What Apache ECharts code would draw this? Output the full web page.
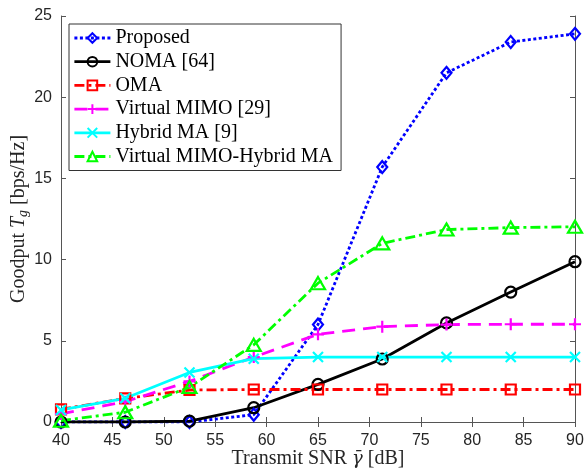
<!DOCTYPE html>
<html>
<head>
<meta charset="utf-8">
<script src="https://cdn.jsdelivr.net/npm/echarts@6/dist/echarts.min.js"></script>
<style>
  html, body { margin: 0; padding: 0; background: #fff; }
  #chart { width: 584px; height: 471px; }
</style>
</head>
<body>
<div id="chart"></div>
<script>
// transmit SNR (dB) sample points
const snr = [40, 46.25, 52.5, 58.75, 65, 71.25, 77.5, 83.75, 90];

// goodput values
const proposed = [0, 0, 0, 0.45, 6.0, 15.7, 21.5, 23.4, 23.9];
const noma     = [0, 0, 0.05, 0.88, 2.32, 3.88, 6.1, 8.0, 9.87];
const oma      = [0.78, 1.45, 1.97, 2.0, 2.0, 2.0, 2.0, 2.0, 2.0];
const vmimo    = [0.5, 1.25, 2.5, 4.0, 5.4, 5.87, 6.0, 6.02, 6.02];
const hybrid   = [0.74, 1.46, 3.05, 3.9, 4.0, 4.0, 4.0, 4.0, 4.0];
const vmHybrid = [0.08, 0.6, 2.15, 4.75, 8.55, 11.0, 11.85, 11.97, 12.02];

const names = ['Proposed', 'NOMA [64]', 'OMA', 'Virtual MIMO [29]', 'Hybrid MA [9]', 'Virtual MIMO-Hybrid MA'];

const axisColor = '#555';
const tickFont = { fontFamily: 'Liberation Sans', fontSize: 16, color: '#262626' };
const serif = 'Liberation Serif';

function pairs(ys) {
  return snr.map((x, i) => [x, ys[i]]);
}

function mk(name, ys, color, dash, symbol, size) {
  return {
    name: name,
    type: 'line',
    data: pairs(ys),
    symbol: symbol,
    symbolSize: size,
    lineStyle: { color: color, width: 2.8, type: dash },
    itemStyle: { color: 'rgba(0,0,0,0)', borderColor: color, borderWidth: 2.2 },
    emphasis: { disabled: true }
  };
}

const chart = echarts.init(document.getElementById('chart'));
const option = {
  animation: false,
  grid: { left: 61, right: 9, top: 16, bottom: 49, containLabel: false, outerBoundsMode: 'none' },
  legend: {
    orient: 'vertical',
    left: 69,
    top: 24,
    padding: [4, 8, 4, 4],
    itemWidth: 36,
    itemHeight: 12,
    itemGap: 3.7,
    backgroundColor: '#fff',
    borderColor: '#333',
    borderWidth: 1,
    borderRadius: 0,
    data: names,
    lineStyle: { width: 2.8 },
    textStyle: { fontFamily: serif, fontSize: 20, color: '#000', lineHeight: 20 }
  },
  xAxis: [{
    type: 'value', min: 40, max: 90, interval: 5,
    name: '{a|Transmit SNR }{g|γ\u0304}{a| [dB]}',
    nameLocation: 'middle', nameGap: 27, nameMoveOverlap: false,
    nameTextStyle: {
      rich: {
        a: { fontFamily: serif, fontSize: 20, color: '#262626' },
        g: { fontFamily: 'DejaVu Serif', fontSize: 18, fontStyle: 'italic', color: '#262626' }
      }
    },
    axisLine: { lineStyle: { color: axisColor } },
    axisTick: { inside: true, length: 5, lineStyle: { color: axisColor } },
    axisLabel: Object.assign({ margin: 11 }, tickFont),
    splitLine: { show: false }
  }, {
    type: 'value', min: 40, max: 90, interval: 5, position: 'top',
    axisLine: { lineStyle: { color: axisColor } },
    axisTick: { inside: true, length: 5, lineStyle: { color: axisColor } },
    axisLabel: { show: false },
    splitLine: { show: false }
  }],
  yAxis: [{
    type: 'value', min: 0, max: 25, interval: 5,
    name: '{a|Goodput }{i|T}{s|g}{a| [bps/Hz]}',
    nameLocation: 'middle', nameGap: 31, nameRotate: 90, nameMoveOverlap: false,
    nameTextStyle: {
      rich: {
        a: { fontFamily: serif, fontSize: 20, color: '#262626' },
        i: { fontFamily: serif, fontSize: 20, fontStyle: 'italic', color: '#262626' },
        s: { fontFamily: serif, fontSize: 14, fontStyle: 'italic', color: '#262626', padding: [8, 0, 0, 0] }
      }
    },
    axisLine: { show: true, lineStyle: { color: axisColor } },
    axisTick: { show: true, inside: true, length: 5, lineStyle: { color: axisColor } },
    axisLabel: Object.assign({ margin: 9 }, tickFont),
    splitLine: { show: false }
  }, {
    type: 'value', min: 0, max: 25, interval: 5, position: 'right',
    axisLine: { show: true, lineStyle: { color: axisColor } },
    axisTick: { show: true, inside: true, length: 5, lineStyle: { color: axisColor } },
    axisLabel: { show: false },
    splitLine: { show: false }
  }],
  series: [
    mk(names[0], proposed, '#0000ff', [3, 2.5], 'path://M5,0L10,5L5,10L0,5Z', [10, 12]),
    mk(names[1], noma, '#000000', 'solid', 'circle', 11),
    mk(names[2], oma, '#ff0000', [10, 4, 3, 4], 'rect', 10),
    mk(names[3], vmimo, '#ff00ff', [13, 8], 'path://M0,5L10,5M5,0L5,10', 12),
    mk(names[4], hybrid, '#00ffff', 'solid', 'path://M0,0L10,10M10,0L0,10', 10),
    mk(names[5], vmHybrid, '#00ff00', [10, 4, 3, 4], 'triangle', [14, 12])
  ]
};
chart.setOption(option);
</script>
</body>
</html>
